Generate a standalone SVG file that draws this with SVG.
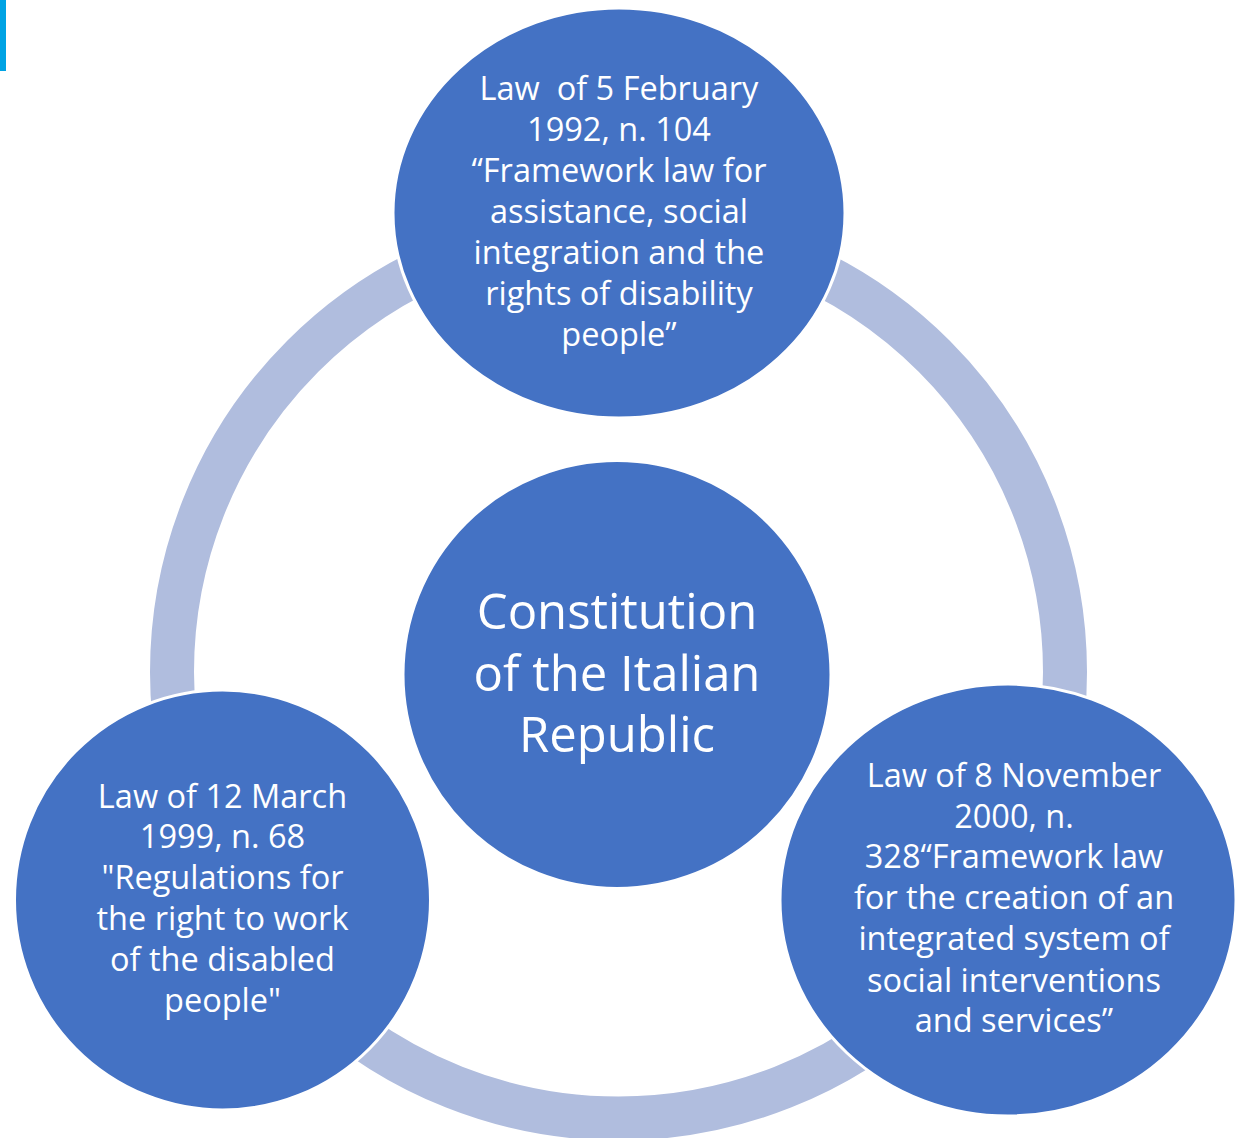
<svg xmlns="http://www.w3.org/2000/svg" width="1236" height="1138" viewBox="0 0 1236 1138">
<style>
.node{fill:#4472C4;stroke:#FFFFFF;stroke-width:3}
.t{font-family:"Open Sans","Liberation Sans",sans-serif;fill:#FFFFFF;text-anchor:middle;font-size:32.5px;white-space:pre}
.tc{font-family:"Open Sans","Liberation Sans",sans-serif;fill:#FFFFFF;text-anchor:middle;font-size:49px}
</style>
<rect x="0" y="0" width="1236" height="1138" fill="#FFFFFF"/>
<rect x="0" y="0" width="6" height="71" fill="#00A3E4"/>
<g id="connectors">
<circle cx="618.5" cy="672" r="446.5" fill="none" stroke="#B0BDDE" stroke-width="44"/>
</g>
<g id="node-top">
<ellipse class="node" cx="619" cy="213" rx="226" ry="205"/>
<text class="t" xml:space="preserve"><tspan x="619" y="100">Law  of 5 February</tspan><tspan x="619" y="141">1992, n. 104</tspan><tspan x="619" y="182">“Framework law for</tspan><tspan x="619" y="223">assistance, social</tspan><tspan x="619" y="264">integration and the</tspan><tspan x="619" y="305">rights of disability</tspan><tspan x="619" y="346">people”</tspan></text>
</g>
<g id="node-center">
<circle class="node" cx="617" cy="674.5" r="214"/>
<text class="tc"><tspan x="617" y="629">Constitution</tspan><tspan x="617" y="691">of the Italian</tspan><tspan x="617" y="752">Republic</tspan></text>
</g>
<g id="node-left">
<ellipse class="node" cx="222.5" cy="900" rx="208" ry="210"/>
<text class="t"><tspan x="222.5" y="808">Law of 12 March</tspan><tspan x="222.5" y="848">1999, n. 68</tspan><tspan x="222.5" y="889">"Regulations for</tspan><tspan x="222.5" y="930">the right to work</tspan><tspan x="222.5" y="971">of the disabled</tspan><tspan x="222.5" y="1012">people"</tspan></text>
</g>
<g id="node-right">
<ellipse class="node" cx="1008" cy="900" rx="228" ry="216"/>
<text class="t"><tspan x="1014" y="787">Law of 8 November</tspan><tspan x="1014" y="828">2000, n.</tspan><tspan x="1014" y="868">328“Framework law</tspan><tspan x="1014" y="909">for the creation of an</tspan><tspan x="1014" y="950">integrated system of</tspan><tspan x="1014" y="992">social interventions</tspan><tspan x="1014" y="1032">and services”</tspan></text>
</g>
</svg>
